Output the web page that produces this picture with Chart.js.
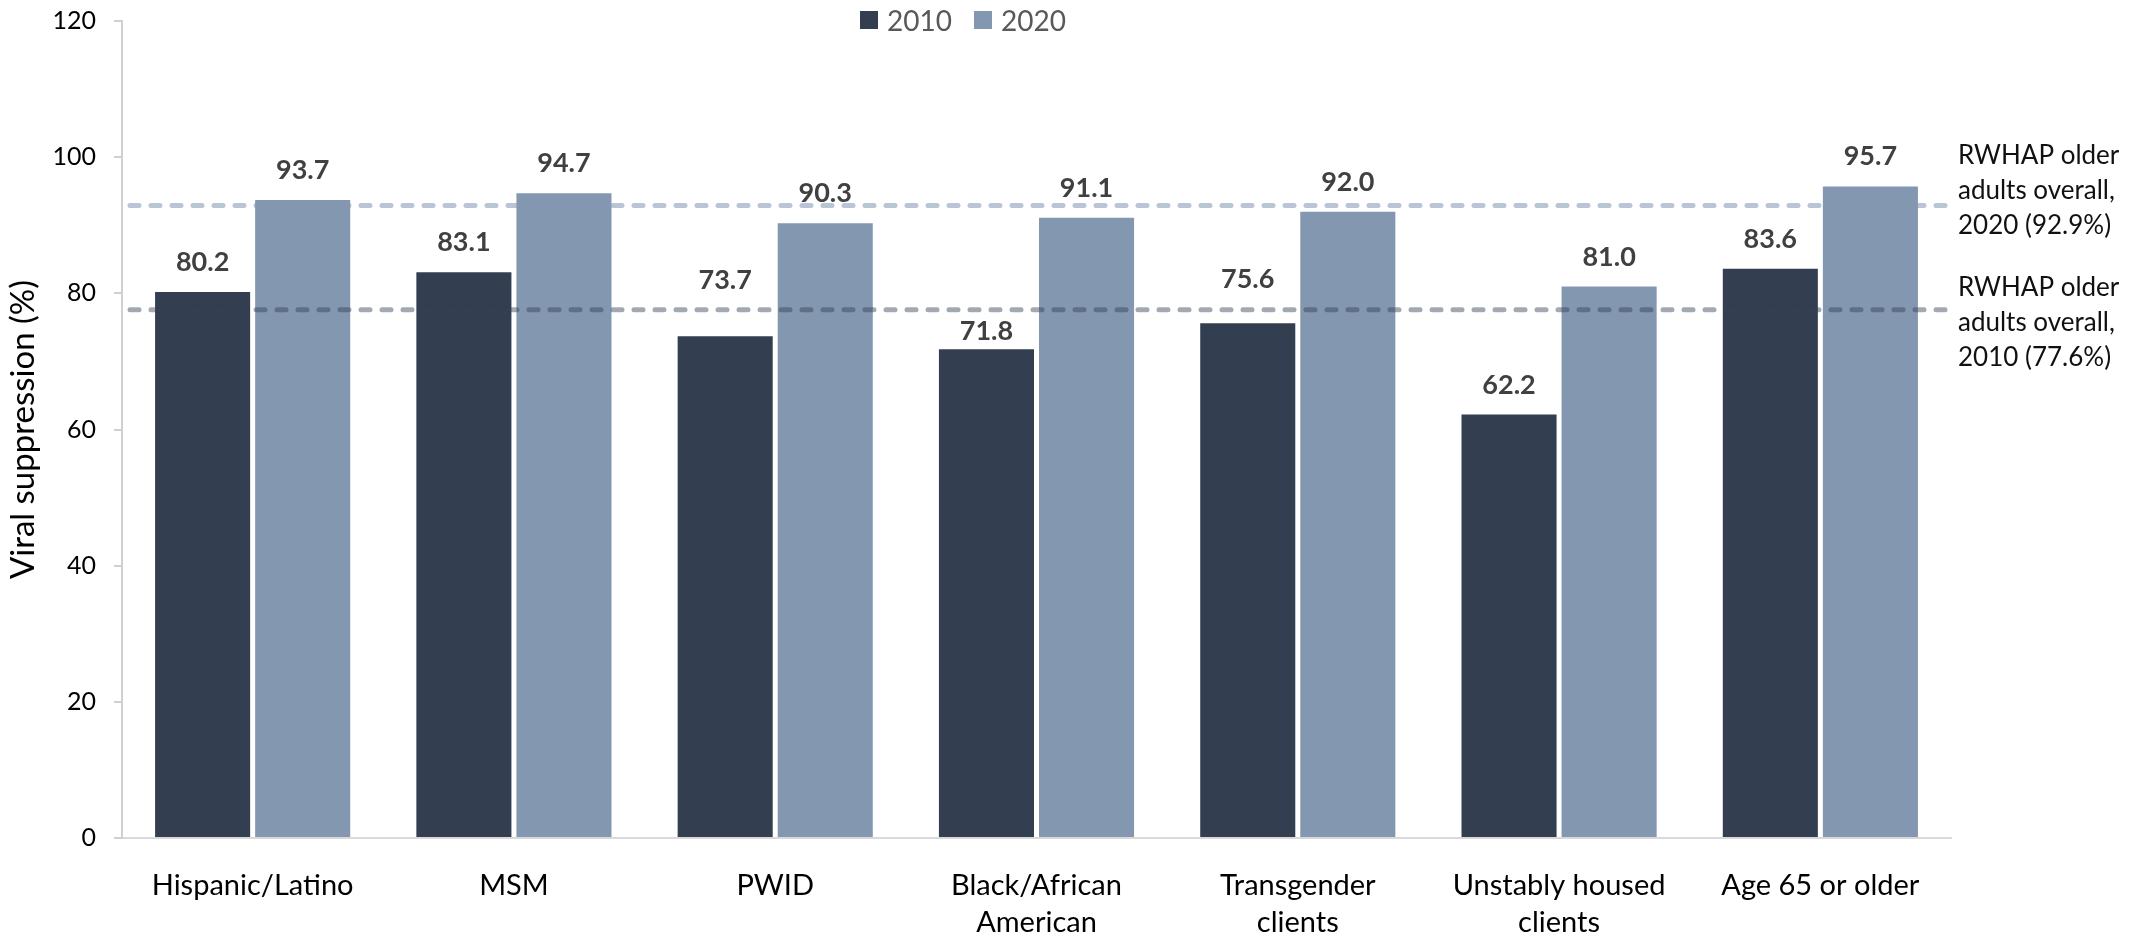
<!DOCTYPE html>
<html>
<head>
<meta charset="utf-8">
<script src="https://cdn.jsdelivr.net/npm/chart.js@4.4.0/dist/chart.umd.min.js"></script>
<style>
  html, body { margin: 0; padding: 0; background: #fff; }
  #wrap { position: relative; width: 2139px; height: 933px; }
  #legend { position: absolute; top: 3px; left: 860px; display: flex; font-family: Lato, sans-serif; font-size: 28px; color: #595959; }
  #legend span.item { display: flex; align-items: center; margin-right: 22px; }
  #legend span.box { width: 18px; height: 18px; margin-right: 9px; }
</style>
</head>
<body>
<div id="wrap">
  <canvas id="chart" width="2139" height="933"></canvas>
  <div id="legend"></div>
</div>
<script>
// ========= DATA =================== //
let categories = [
  "Hispanic/Latino",
  "MSM",
  "PWID",
  ["Black/African", "American"],
  ["Transgender", "clients"],
  ["Unstably housed", "clients"],
  "Age 65 or older",
];
let values2010 = [80.2, 83.1, 73.7, 71.8, 75.6, 62.2, 83.6];
let values2020 = [93.7, 94.7, 90.3, 91.1, 92.0, 81.0, 95.7];
let yTicks = [0, 20, 40, 60, 80, 100, 120];
let overall2020 = 92.9;
let overall2010 = 77.6;
let refLabels2020 = ["RWHAP older", "adults overall,", "2020 (92.9%)"];
let refLabels2010 = ["RWHAP older", "adults overall,", "2010 (77.6%)"];

const FONT = "Lato, sans-serif";

// ========= PLUGINS =================== //
function dashLine(chart, value, color) {
  let ctx = chart.ctx;
  let y = chart.scales.y.getPixelForValue(value);
  ctx.save();
  ctx.strokeStyle = color;
  ctx.lineWidth = 5;
  ctx.lineCap = "round";
  ctx.setLineDash([9, 12]);
  ctx.beginPath();
  ctx.moveTo(chart.chartArea.left + 8, y);
  ctx.lineTo(chart.chartArea.right + 2, y);
  ctx.stroke();
  ctx.restore();
}

let refLines = {
  id: "refLines",
  beforeDatasetsDraw(chart) {
    dashLine(chart, overall2020, "#b9c4d4");
  },
  afterDatasetsDraw(chart) {
    dashLine(chart, overall2010, "rgba(52, 64, 84, 0.45)");
  },
  afterDraw(chart) {
    let ctx = chart.ctx;
    let x = chart.chartArea.right + 7;
    ctx.save();
    ctx.font = "26px " + FONT;
    ctx.fillStyle = "#111";
    ctx.textAlign = "left";
    ctx.textBaseline = "middle";
    let y20 = chart.scales.y.getPixelForValue(overall2020) - 15;
    refLabels2020.forEach((t, i) => ctx.fillText(t, x, y20 + (i - 1) * 35));
    let y10 = chart.scales.y.getPixelForValue(overall2010) + 13;
    refLabels2010.forEach((t, i) => ctx.fillText(t, x, y10 + (i - 1) * 35));
    ctx.restore();
  },
};

// labels that were moved off the 2010 reference line
let labelNudge = { "0-2": -26, "0-3": 12, "0-4": -14 };

let barLabels = {
  id: "barLabels",
  afterDatasetsDraw(chart) {
    let ctx = chart.ctx;
    ctx.save();
    ctx.font = "bold 27px " + FONT;
    ctx.fillStyle = "#404040";
    ctx.textAlign = "center";
    ctx.textBaseline = "alphabetic";
    chart.data.datasets.forEach((ds, di) => {
      chart.getDatasetMeta(di).data.forEach((bar, i) => {
        let nudge = labelNudge[di + "-" + i] || 0;
        ctx.fillText(ds.data[i].toFixed(1), bar.x, bar.y - 21 + nudge);
      });
    });
    ctx.restore();
  },
};

// ================= CHART ========================//
let ctx = document.getElementById("chart").getContext("2d");

let chart = new Chart(ctx, {
  type: "bar",
  data: {
    labels: categories,
    datasets: [
      {
        label: "2010",
        data: values2010,
        backgroundColor: "#333f50",
        categoryPercentage: 0.766,
        barPercentage: 0.95,
      },
      {
        label: "2020",
        data: values2020,
        backgroundColor: "#8497b0",
        categoryPercentage: 0.766,
        barPercentage: 0.95,
      },
    ],
  },
  options: {
    responsive: false,
    animation: false,
    layout: {
      padding: { top: 21, right: 188, left: 0, bottom: 0 },
    },
    plugins: {
      legend: { display: false },
      tooltip: { enabled: false },
    },
    scales: {
      x: {
        grid: { display: false },
        border: { display: true, color: "#d9d9d9", width: 2 },
        ticks: {
          color: "#000",
          font: { family: FONT, size: 29, lineHeight: 1.25 },
          padding: 22,
          maxRotation: 0,
          autoSkip: false,
        },
        afterFit(scale) {
          scale.height = 95;
          scale.paddingLeft = 0;
          scale.paddingRight = 0;
        },
      },
      y: {
        min: 0,
        max: 120,
        afterBuildTicks(scale) {
          scale.ticks = yTicks.map((v) => ({ value: v }));
        },
        grid: {
          drawOnChartArea: false,
          drawTicks: true,
          tickLength: 8,
          color: "#d0d0d0",
          lineWidth: 2,
        },
        border: { display: true, color: "#d0d0d0", width: 2 },
        ticks: {
          color: "#000",
          font: { family: FONT, size: 25 },
          padding: 18,
        },
        title: {
          display: true,
          text: "Viral suppression (%)",
          color: "#000",
          font: { family: FONT, size: 33 },
          padding: { top: 4, bottom: 0 },
        },
        afterFit(scale) {
          scale.width = 122;
          scale.paddingTop = 0;
          scale.paddingBottom = 0;
        },
      },
    },
  },
  plugins: [refLines, barLabels],
});

// ========= LEGEND =================== //
let legend = document.getElementById("legend");
chart.data.datasets.forEach((ds) => {
  let item = document.createElement("span");
  item.className = "item";
  let box = document.createElement("span");
  box.className = "box";
  box.style.background = ds.backgroundColor;
  item.appendChild(box);
  item.appendChild(document.createTextNode(ds.label));
  legend.appendChild(item);
});
</script>
</body>
</html>
